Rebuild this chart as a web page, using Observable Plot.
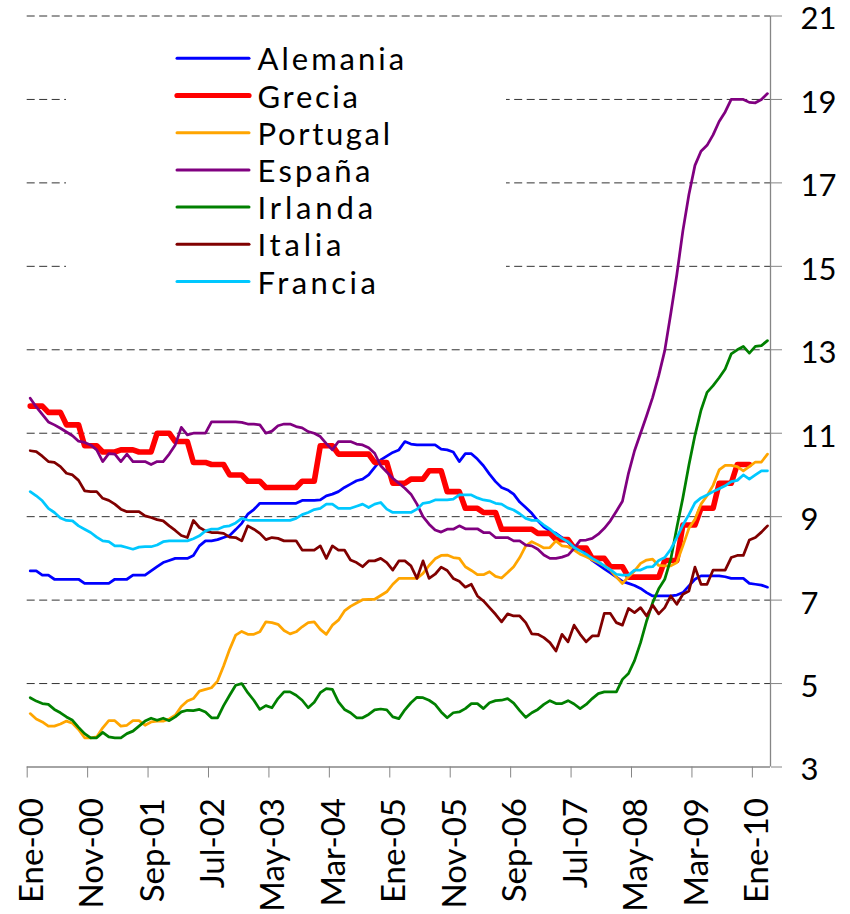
<!DOCTYPE html>
<html><head><meta charset="utf-8">
<script src="https://cdn.jsdelivr.net/npm/d3@7"></script>
<script src="https://cdn.jsdelivr.net/npm/@observablehq/plot@0.6"></script>
<style>
body{margin:0;background:#fff;}
#wrap{position:relative;width:850px;height:914px;}
#legend{position:absolute;left:66px;top:22px;width:440px;height:282px;background:#fff;}
svg text{font-family:Lato,sans-serif;}
</style></head><body><div id="wrap"></div>
<script>
const tickLabels = ["Ene-00","Nov-00","Sep-01","Jul-02","May-03","Mar-04","Ene-05","Nov-05","Sep-06","Jul-07","May-08","Mar-09","Ene-10"];
const yTicks = [3,5,7,9,11,13,15,17,19,21];
const nMonths = 123;

const alemania = [7.7,7.7,7.6,7.6,7.5,7.5,7.5,7.5,7.5,7.4,
7.4,7.4,7.4,7.4,7.5,7.5,7.5,7.6,7.6,7.6,
7.7,7.8,7.9,7.95,8.0,8.0,8.0,8.07,8.3,8.42,
8.42,8.45,8.5,8.55,8.69,8.84,9.06,9.17,9.32,9.32,
9.32,9.32,9.32,9.32,9.32,9.39,9.39,9.39,9.4,9.5,
9.54,9.6,9.7,9.78,9.86,9.9,10.0,10.18,10.36,10.45,
10.54,10.6,10.8,10.74,10.72,10.72,10.72,10.72,10.62,10.6,
10.55,10.32,10.51,10.51,10.38,10.22,10.02,9.84,9.7,9.64,
9.54,9.35,9.22,9.08,8.9,8.75,8.66,8.6,8.5,8.38,
8.3,8.26,8.1,7.95,7.85,7.75,7.65,7.55,7.45,7.4,
7.35,7.28,7.18,7.1,7.1,7.1,7.1,7.12,7.18,7.34,
7.5,7.58,7.58,7.58,7.58,7.56,7.52,7.52,7.52,7.4,
7.38,7.36,7.31];

const grecia = [11.65,11.65,11.65, 11.5,11.5,11.5, 11.2,11.2,11.2, 10.7,10.7,10.7,
10.55,10.55,10.55, 10.6,10.6,10.6, 10.55,10.55,10.55, 11.0,11.0,11.0,
10.8,10.8,10.8, 10.3,10.3,10.3, 10.25,10.25,10.25, 10.0,10.0,10.0,
9.85,9.85,9.85, 9.7,9.7,9.7, 9.7,9.7,9.7, 9.85,9.85,9.85,
10.7,10.7,10.7, 10.5,10.5,10.5, 10.5,10.5,10.5, 10.3,10.3,10.3,
9.8,9.8,9.8, 9.9,9.9,9.9, 10.1,10.1,10.1, 9.6,9.6,9.6,
9.2,9.2,9.2, 9.1,9.1,9.1, 8.7,8.7,8.7, 8.7,8.7,8.7,
8.6,8.6,8.6, 8.45,8.45,8.45, 8.25,8.25,8.25, 8.0,8.0,8.0,
7.8,7.8,7.8, 7.55,7.55,7.55, 7.55,7.55,7.55, 7.95,7.95,7.95,
8.8,8.8,8.8, 9.2,9.2,9.2, 9.8,9.8,9.8, 10.25,10.25,10.25];

const portugal = [4.28,4.15,4.08,3.98,3.98,4.03,4.1,4.05,3.9,3.7,
3.7,3.72,3.94,4.11,4.11,3.98,4.0,4.11,4.11,4.0,
4.08,4.1,4.1,4.15,4.24,4.45,4.58,4.64,4.82,4.86,
4.9,5.06,5.42,5.82,6.16,6.25,6.18,6.18,6.24,6.48,
6.46,6.42,6.27,6.19,6.24,6.36,6.46,6.48,6.3,6.18,
6.4,6.52,6.74,6.85,6.93,7.01,7.02,7.02,7.11,7.2,
7.38,7.52,7.52,7.52,7.52,7.64,7.83,7.99,8.07,8.08,
8.02,8.0,7.8,7.71,7.61,7.61,7.68,7.57,7.53,7.66,
7.8,8.02,8.3,8.4,8.33,8.25,8.26,8.42,8.3,8.28,
8.2,8.1,8.04,7.97,7.9,7.82,7.72,7.55,7.4,7.56,
7.7,7.88,7.96,7.98,7.83,7.82,7.82,7.9,8.3,8.72,
8.94,9.3,9.5,9.75,10.12,10.23,10.23,10.2,10.1,10.2,
10.31,10.31,10.5];

const espana = [11.84,11.63,11.45,11.27,11.2,11.12,11.03,10.94,10.81,10.78,
10.72,10.6,10.32,10.51,10.5,10.32,10.5,10.32,10.32,10.32,
10.25,10.32,10.32,10.5,10.72,11.14,10.96,11.0,11.0,11.0,
11.27,11.27,11.27,11.27,11.27,11.26,11.22,11.22,11.2,11.0,
11.05,11.18,11.22,11.22,11.16,11.13,11.04,11.0,10.92,10.75,
10.6,10.8,10.8,10.8,10.74,10.72,10.65,10.52,10.22,10.07,
9.92,9.8,9.68,9.54,9.3,9.0,8.82,8.68,8.63,8.7,
8.7,8.78,8.71,8.71,8.71,8.62,8.62,8.5,8.5,8.5,
8.42,8.42,8.32,8.3,8.22,8.08,8.0,8.0,8.03,8.08,
8.24,8.43,8.44,8.48,8.58,8.72,8.9,9.13,9.37,10.04,
10.58,11.0,11.42,11.86,12.38,12.98,13.87,14.8,15.85,16.72,
17.42,17.76,17.9,18.15,18.47,18.7,19.0,19.0,19.0,18.93,
18.92,19.0,19.14];

const irlanda = [4.66,4.58,4.52,4.5,4.38,4.3,4.2,4.12,3.95,3.8,
3.7,3.7,3.83,3.72,3.7,3.7,3.8,3.86,3.98,4.1,
4.17,4.12,4.17,4.11,4.2,4.32,4.36,4.35,4.38,4.32,
4.18,4.18,4.47,4.72,4.96,5.0,4.78,4.6,4.38,4.47,
4.42,4.64,4.8,4.8,4.72,4.6,4.42,4.55,4.78,4.88,
4.86,4.56,4.38,4.3,4.18,4.18,4.26,4.37,4.39,4.37,
4.2,4.16,4.37,4.54,4.67,4.66,4.6,4.5,4.32,4.18,
4.3,4.32,4.4,4.52,4.52,4.4,4.54,4.59,4.6,4.64,
4.53,4.35,4.19,4.3,4.38,4.5,4.59,4.52,4.52,4.59,
4.51,4.4,4.5,4.64,4.76,4.8,4.8,4.8,5.1,5.24,
5.55,5.98,6.5,6.94,7.27,7.5,7.98,8.74,9.45,10.24,
10.95,11.55,11.98,12.14,12.33,12.54,12.9,13.0,13.08,12.92,
13.08,13.1,13.22];

const italia = [10.58,10.56,10.45,10.32,10.3,10.2,10.04,10.0,9.87,9.62,
9.6,9.6,9.44,9.39,9.3,9.18,9.12,9.12,9.12,9.02,
8.98,8.93,8.9,8.78,8.67,8.55,8.5,8.91,8.74,8.66,
8.62,8.62,8.6,8.51,8.5,8.42,8.78,8.7,8.6,8.45,
8.5,8.48,8.42,8.42,8.42,8.2,8.2,8.2,8.3,8.0,
8.3,8.2,8.2,7.96,7.9,7.8,7.94,7.94,8.0,7.9,
7.72,7.94,7.94,7.82,7.52,7.94,7.52,7.62,7.79,7.71,
7.52,7.45,7.31,7.38,7.1,6.98,6.82,6.66,6.48,6.67,
6.62,6.62,6.46,6.19,6.18,6.1,5.98,5.78,6.18,6.0,
6.4,6.18,6.0,6.14,6.14,6.68,6.68,6.46,6.4,6.8,
6.7,6.82,6.62,6.88,6.67,6.82,7.1,6.9,7.14,7.22,
7.79,7.38,7.38,7.72,7.72,7.72,8.02,8.07,8.07,8.44,
8.5,8.63,8.78];

const francia = [9.6,9.5,9.38,9.2,9.1,8.97,8.91,8.9,8.78,8.7,
8.62,8.51,8.42,8.4,8.3,8.3,8.26,8.22,8.27,8.28,
8.28,8.32,8.4,8.42,8.42,8.42,8.42,8.47,8.54,8.66,
8.7,8.7,8.76,8.78,8.85,8.96,8.92,8.91,8.91,8.91,
8.91,8.91,8.91,8.91,8.96,9.05,9.1,9.17,9.2,9.3,
9.3,9.2,9.2,9.2,9.25,9.3,9.22,9.3,9.34,9.18,
9.1,9.1,9.1,9.1,9.18,9.32,9.34,9.4,9.4,9.4,
9.42,9.52,9.52,9.52,9.45,9.4,9.38,9.32,9.3,9.21,
9.16,9.07,8.96,8.91,8.91,8.8,8.7,8.58,8.48,8.4,
8.26,8.18,8.1,8.0,7.92,7.82,7.73,7.62,7.6,7.6,
7.72,7.72,7.79,7.8,7.95,8.02,8.22,8.5,8.8,9.05,
9.33,9.45,9.52,9.6,9.67,9.74,9.84,9.87,10.0,9.9,
10.0,10.1,10.1];

const seriesNames = ["Alemania","Grecia","Portugal","España","Irlanda","Italia","Francia"];
const seriesValues = [alemania, grecia, portugal, espana, irlanda, italia, francia];
const seriesColors = ["#0000FF","#FF0000","#FFA500","#800080","#008000","#800000","#00C8FF"];
const seriesWidths = [2.75, 5.6, 2.75, 2.75, 2.75, 2.75, 2.75];
const legendWidths = [146.5, 100.2, 132.4, 112.7, 115.5, 83.9, 118.2];

const rows = seriesNames.map((name, s) => seriesValues[s].map((v, i) => ({series: name, i, v})));
const tickPos = tickLabels.map((d, j) => j * 10);

const chart = Plot.plot({
  width: 850, height: 914,
  marginLeft: 26.7, marginRight: 80, marginTop: 15.5, marginBottom: 147.5,
  x: {domain: [0, nMonths]},
  y: {domain: [3, 21]},
  style: {fontFamily: "Lato, sans-serif", background: "white", overflow: "visible"},
  marks: [
    Plot.ruleY(yTicks.slice(1), {stroke: "#333", strokeDasharray: "8,4.5", strokeWidth: 1}),
    Plot.ruleY([3], {stroke: "#868686", strokeWidth: 1.3}),
    Plot.ruleX([nMonths], {stroke: "#868686", strokeWidth: 1.3}),
    Plot.axisX({ticks: tickPos, tickFormat: () => "", tickSize: 11, stroke: "#868686", label: null}),
    Plot.axisY({anchor: "right", ticks: yTicks, tickFormat: () => "", tickSize: 11, stroke: "#868686", label: null}),
    Plot.text(tickPos, {x: d => d, text: (d, i) => tickLabels[i], frameAnchor: "bottom", rotate: -90,
      textAnchor: "end", lineAnchor: "middle", dx: 5, dy: 31, fontSize: 33, fill: "black", ariaLabel: "xlabels"}),
    Plot.text(yTicks, {y: d => d, text: d => String(d), frameAnchor: "right", textAnchor: "start", lineAnchor: "middle",
      dx: 30, dy: 3.5, fontSize: 31, fill: "black", ariaLabel: "ylabels"}),
    ...rows.map((r, s) => Plot.line(r, {x: d => d.i + 0.5, y: "v", stroke: seriesColors[s], strokeWidth: seriesWidths[s], strokeLinejoin: "round", strokeLinecap: "round"}))
  ]
});
const wrap = document.getElementById("wrap");
wrap.appendChild(chart);

// condense the rotated month labels the way the reference font does
const xl = d3.select(chart).selectAll('g[aria-label="xlabels"] text');
const refNode = xl.filter(function() { return this.textContent === "Ene-00"; }).node();
if (refNode) {
  const k = 100 / refNode.getComputedTextLength();
  xl.each(function() {
    const L = this.getComputedTextLength();
    this.setAttribute("textLength", (L * k).toFixed(1));
    this.setAttribute("lengthAdjust", "spacingAndGlyphs");
  });
}
d3.select(chart).selectAll('g[aria-label="ylabels"] text').style("letter-spacing", "1px");

// legend box
const leg = document.createElement("div");
leg.id = "legend";
wrap.appendChild(leg);
const lsvg = d3.select(leg).append("svg").attr("width", 440).attr("height", 282);
seriesNames.forEach((name, s) => {
  const cy = 58.3 + 37.2 * s - 22;
  lsvg.append("line").attr("x1", 177 - 66).attr("x2", 249 - 66).attr("y1", cy).attr("y2", cy)
    .attr("stroke", seriesColors[s]).attr("stroke-width", s === 1 ? 5.2 : 3).attr("stroke-linecap", "round");
  lsvg.append("text").attr("x", 257.6 - 66).attr("y", cy + 12).attr("font-size", 31)
    .attr("textLength", legendWidths[s]).attr("lengthAdjust", "spacing")
    .attr("fill", "black").text(name);
});
</script>
</body></html>
